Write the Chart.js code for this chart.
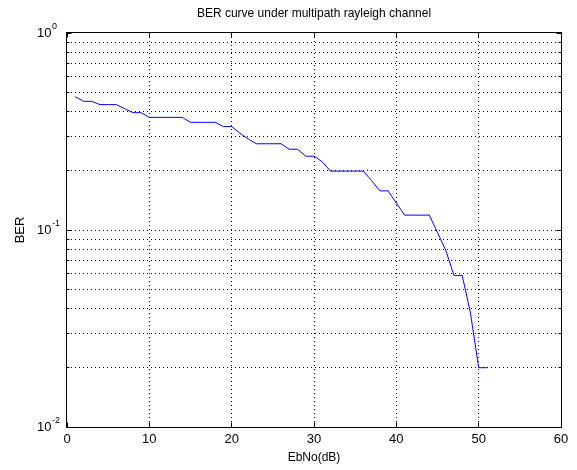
<!DOCTYPE html>
<html>
<head>
<meta charset="utf-8">
<script src="https://cdn.jsdelivr.net/npm/chart.js@4"></script>
<style>
html,body{margin:0;padding:0;background:#fff;}
#wrap{width:577px;height:470px;}
</style>
</head>
<body>
<div id="wrap"><canvas id="c" width="577" height="470"></canvas></div>
<script>
// ---- data ----
const ebno = [1,2,3,4,5,6,7,8,9,10,11,12,13,14,15,16,17,18,19,20,21,22,23,24,25,26,27,28,29,30,31,32,33,34,35,36,37,38,39,40,41,42,43,44,45,46,47,48,49,50,51];
const ber = [0.475,0.45,0.45,0.433,0.433,0.433,0.413,0.394,0.394,0.373,0.373,0.373,0.373,0.373,0.352,0.352,0.352,0.352,0.335,0.335,0.31,0.29,0.274,0.274,0.274,0.274,0.257,0.257,0.237,0.237,0.222,0.199,0.199,0.199,0.199,0.199,0.178,0.158,0.158,0.137,0.119,0.119,0.119,0.119,0.097,0.079,0.0588,0.0588,0.038,0.02,0.02];
const xTicks = [0,10,20,30,40,50,60];
const yTicks = [0.01,0.02,0.03,0.04,0.05,0.06,0.07,0.08,0.09,0.1,0.2,0.3,0.4,0.5,0.6,0.7,0.8,0.9,1];
const yLabelValues = [0.01,0.1,1];
const yLabelExponents = ['-2','-1','0'];
const titleText = 'BER curve under multipath rayleigh channel';
const xTitle = 'EbNo(dB)';
const yTitle = 'BER';

const FONT = "'Liberation Sans', Arial, sans-serif";

function align(p){ return Math.round(p - 0.5) + 0.5; }

const matlabAxes = {
  id: 'matlabAxes',
  afterDraw(chart) {
    const {ctx, chartArea, scales} = chart;
    const xs = scales.x, ys = scales.y;
    const L = Math.round(chartArea.left) - 0.5;
    const R = Math.round(chartArea.right) + 0.5;
    const T = Math.round(chartArea.top) - 0.5;
    const B = Math.round(chartArea.bottom) + 0.5;
    ctx.save();
    ctx.setLineDash([]);
    ctx.strokeStyle = '#000';
    ctx.lineWidth = 1;
    ctx.beginPath();
    // inward x ticks
    xs.ticks.forEach(t => {
      const px = align(xs.getPixelForValue(t.value));
      ctx.moveTo(px, B); ctx.lineTo(px, B - 5);
      ctx.moveTo(px, T); ctx.lineTo(px, T + 5);
    });
    // inward y ticks
    ys.ticks.forEach(t => {
      const py = align(ys.getPixelForValue(t.value));
      const major = yLabelValues.includes(t.value);
      const len = major ? 5 : 3;
      ctx.moveTo(L, py); ctx.lineTo(L + len, py);
      ctx.moveTo(R, py); ctx.lineTo(R - len, py);
    });
    ctx.stroke();
    ctx.strokeRect(L, T, R - L, B - T);
    // y labels 10^n
    ctx.fillStyle = '#000';
    yLabelValues.forEach((v, i) => {
      const py = ys.getPixelForValue(v);
      ctx.font = '13px ' + FONT;
      ctx.textAlign = 'right';
      ctx.textBaseline = 'middle';
      ctx.fillText('10', 51.5, py + 0.5);
      ctx.font = '9px ' + FONT;
      ctx.textAlign = 'left';
      ctx.textBaseline = 'alphabetic';
      ctx.fillText(yLabelExponents[i], 52, py - 4.5);
    });
    ctx.restore();
  }
};

new Chart(document.getElementById('c'), {
  type: 'line',
  data: {
    datasets: [{
      data: ebno.map((x, i) => ({x: x, y: ber[i]})),
      borderColor: '#0000ff',
      borderWidth: 1,
      pointRadius: 0,
      tension: 0,
      fill: false
    }]
  },
  options: {
    responsive: false,
    animation: false,
    events: [],
    layout: {padding: {left: 0, right: 16, top: 0, bottom: 0}},
    plugins: {
      legend: {display: false},
      tooltip: {enabled: false},
      title: {
        display: true,
        text: titleText,
        fullSize: false,
        color: '#000',
        font: {family: FONT, size: 12, weight: 'normal', lineHeight: 1.2},
        padding: {top: 6.8, bottom: 11.8}
      }
    },
    scales: {
      x: {
        type: 'linear',
        min: 0, max: 60,
        afterBuildTicks: s => { s.ticks = xTicks.map(v => ({value: v})); },
        afterFit: s => { s.height = 43; },
        ticks: {
          color: '#000',
          padding: 5,
          font: {family: FONT, size: 13},
          callback: v => String(v),
          maxRotation: 0
        },
        grid: {
          drawTicks: false,
          color: c => (c.tick && (c.tick.value === 0 || c.tick.value === 60)) ? 'rgba(0,0,0,0)' : '#000',
          lineWidth: 1
        },
        border: {display: false, dash: [1, 3]},
        title: {
          display: true,
          text: xTitle,
          color: '#000',
          font: {family: FONT, size: 12, lineHeight: 1.2},
          padding: {top: 0, bottom: 4.8}
        }
      },
      y: {
        type: 'logarithmic',
        min: 0.01, max: 1,
        afterBuildTicks: s => { s.ticks = yTicks.map(v => ({value: v, major: yLabelValues.includes(v)})); },
        afterFit: s => { s.width = 67; },
        ticks: {display: false},
        grid: {
          drawTicks: false,
          color: c => (c.tick && (c.tick.value === 0.01 || c.tick.value === 1)) ? 'rgba(0,0,0,0)' : '#000',
          lineWidth: 1
        },
        border: {display: false, dash: [1, 3]},
        title: {
          display: true,
          text: yTitle,
          color: '#000',
          font: {family: FONT, size: 13, lineHeight: 1.2},
          padding: {top: 12.2, bottom: 0}
        }
      }
    }
  },
  plugins: [matlabAxes]
});
</script>
</body>
</html>
